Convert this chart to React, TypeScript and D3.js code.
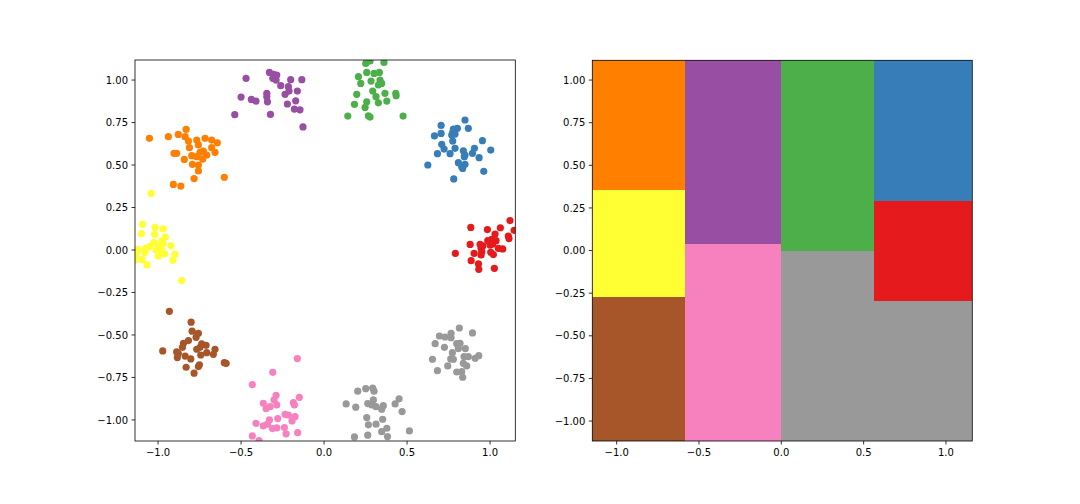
import React from "react";
import * as d3 from "d3";

// ---- data ----
const classColors = ["#e41a1c", "#377eb8", "#4daf4a", "#984ea3", "#ff7f00", "#ffff33", "#a65628", "#f781bf", "#999999", "#999999"];

const redPts: [number, number][] = [
  [1.12, 0.173], [0.884, 0.133], [0.984, 0.12], [1.062, 0.131], [1.145, 0.116], [1.03, 0.094], [1.11, 0.082], [1.114, 0.067],
  [1.01, 0.063], [0.986, 0.055], [1.036, 0.055], [0.88, 0.033], [0.94, 0.033], [0.956, 0.024], [1.0, 0.029], [1.016, 0.035],
  [0.946, 0.01], [1.05, 0.01], [1.076, 0.006], [0.791, -0.02], [0.904, -0.02], [0.95, -0.01], [1.004, -0.014], [1.02, -0.027],
  [0.946, -0.029], [0.886, -0.063], [0.93, -0.082], [0.932, -0.114], [1.026, -0.108],
];
const bluePts: [number, number][] = [
  [0.849, 0.765], [0.705, 0.733], [0.869, 0.716], [0.779, 0.712], [0.803, 0.716], [0.775, 0.692], [0.705, 0.686], [0.665, 0.671],
  [0.769, 0.676], [0.789, 0.682], [0.775, 0.641], [0.954, 0.643], [0.709, 0.622], [0.723, 0.594], [0.789, 0.598], [0.839, 0.584],
  [0.906, 0.598], [1.004, 0.588], [0.894, 0.569], [0.683, 0.567], [0.759, 0.567], [0.849, 0.559], [0.845, 0.549], [0.934, 0.543],
  [0.809, 0.514], [0.849, 0.504], [0.625, 0.5], [0.829, 0.49], [0.835, 0.48], [0.962, 0.463], [0.781, 0.418],
];
const greenPts: [number, number][] = [
  [0.257, 1.108], [0.277, 1.112], [0.251, 1.098], [0.361, 1.104], [0.257, 1.045], [0.301, 1.039], [0.333, 1.045], [0.207, 1.02],
  [0.283, 0.994], [0.337, 1.0], [0.347, 0.98], [0.327, 0.971], [0.221, 0.98], [0.293, 0.935], [0.367, 0.922], [0.432, 0.922],
  [0.434, 0.908], [0.197, 0.916], [0.313, 0.902], [0.257, 0.872], [0.378, 0.876], [0.327, 0.866], [0.183, 0.857], [0.247, 0.839],
  [0.143, 0.788], [0.267, 0.79], [0.277, 0.782], [0.476, 0.788],
];
const purplePts: [number, number][] = [
  [-0.329, 1.045], [-0.305, 1.033], [-0.285, 1.029], [-0.309, 1.01], [-0.289, 1.0], [-0.47, 1.01], [-0.201, 1.002], [-0.134, 1.002],
  [-0.261, 0.967], [-0.215, 0.961], [-0.211, 0.935], [-0.161, 0.935], [-0.345, 0.922], [-0.235, 0.916], [-0.345, 0.902], [-0.5, 0.9],
  [-0.438, 0.886], [-0.41, 0.876], [-0.341, 0.872], [-0.171, 0.878], [-0.221, 0.859], [-0.179, 0.829], [-0.145, 0.825], [-0.538, 0.796],
  [-0.323, 0.798], [-0.127, 0.724],
];
const orangePts: [number, number][] = [
  [-0.831, 0.71], [-1.052, 0.657], [-0.938, 0.667], [-0.878, 0.68], [-0.837, 0.667], [-0.817, 0.641], [-0.767, 0.647], [-0.717, 0.657],
  [-0.677, 0.647], [-0.643, 0.631], [-0.757, 0.618], [-0.811, 0.602], [-0.677, 0.602], [-0.904, 0.569], [-0.888, 0.569], [-0.747, 0.575],
  [-0.727, 0.582], [-0.657, 0.575], [-0.797, 0.555], [-0.707, 0.559], [-0.767, 0.549], [-0.731, 0.535], [-0.842, 0.533], [-0.793, 0.504],
  [-0.757, 0.5], [-0.757, 0.465], [-0.601, 0.428], [-0.783, 0.42], [-0.908, 0.386], [-0.863, 0.376],
];
const yellowPts: [number, number][] = [
  [-1.042, 0.333], [-1.094, 0.151], [-1.018, 0.133], [-0.97, 0.125], [-1.1, 0.096], [-1.02, 0.092], [-0.956, 0.076], [-0.976, 0.055],
  [-1.024, 0.045], [-0.97, 0.039], [-0.922, 0.025], [-1.052, 0.02], [-0.998, 0.024], [-1.119, 0.004], [-1.074, 0.01], [-1.012, 0.0],
  [-0.978, 0.0], [-1.128, -0.01], [-1.08, -0.016], [-0.96, -0.022], [-0.898, -0.025], [-1.133, -0.029], [-0.998, -0.037], [-1.096, -0.057],
  [-0.911, -0.061], [-1.139, -0.059], [-1.066, -0.088], [-0.857, -0.18],
];
const brownPts: [number, number][] = [
  [-0.932, -0.361], [-0.801, -0.425], [-0.795, -0.478], [-0.757, -0.49], [-0.771, -0.514], [-0.817, -0.533], [-0.847, -0.549], [-0.737, -0.553],
  [-0.711, -0.561], [-0.853, -0.573], [-0.747, -0.573], [-0.767, -0.584], [-0.657, -0.584], [-0.972, -0.594], [-0.888, -0.6], [-0.878, -0.608],
  [-0.707, -0.604], [-0.743, -0.618], [-0.667, -0.614], [-0.837, -0.624], [-0.803, -0.641], [-0.884, -0.633], [-0.601, -0.663], [-0.59, -0.667],
  [-0.751, -0.676], [-0.757, -0.686], [-0.831, -0.69], [-0.783, -0.725],
];
const pinkPts: [number, number][] = [
  [-0.161, -0.639], [-0.309, -0.72], [-0.432, -0.792], [-0.289, -0.855], [-0.149, -0.867], [-0.366, -0.902], [-0.301, -0.882], [-0.285, -0.912],
  [-0.325, -0.922], [-0.349, -0.933], [-0.185, -0.898], [-0.179, -0.912], [-0.235, -0.967], [-0.215, -0.971], [-0.175, -0.98], [-0.279, -0.992],
  [-0.329, -1.0], [-0.193, -1.006], [-0.41, -1.02], [-0.341, -1.025], [-0.366, -1.035], [-0.311, -1.051], [-0.285, -1.047], [-0.239, -1.045],
  [-0.159, -1.075], [-0.229, -1.082], [-0.432, -1.094], [-0.392, -1.122],
];
const grayBottomPts: [number, number][] = [
  [0.203, -0.831], [0.251, -0.816], [0.293, -0.812], [0.301, -0.831], [0.452, -0.876], [0.133, -0.906], [0.191, -0.925], [0.263, -0.904],
  [0.297, -0.882], [0.287, -0.912], [0.313, -0.922], [0.357, -0.916], [0.347, -0.937], [0.428, -0.906], [0.47, -0.951], [0.257, -0.986],
  [0.353, -0.996], [0.267, -1.029], [0.313, -1.025], [0.378, -1.049], [0.347, -1.069], [0.514, -1.065], [0.183, -1.1], [0.263, -1.09],
  [0.382, -1.098],
];
const grayRightPts: [number, number][] = [
  [0.815, -0.459], [0.894, -0.488], [0.695, -0.506], [0.729, -0.512], [0.765, -0.49], [0.765, -0.516], [0.669, -0.551], [0.799, -0.551],
  [0.819, -0.549], [0.725, -0.573], [0.809, -0.58], [0.851, -0.58], [0.773, -0.604], [0.653, -0.643], [0.763, -0.641], [0.779, -0.643],
  [0.843, -0.627], [0.869, -0.627], [0.932, -0.622], [0.91, -0.637], [0.745, -0.682], [0.839, -0.667], [0.859, -0.682], [0.683, -0.71],
  [0.799, -0.718], [0.829, -0.716], [0.835, -0.749],
];
const clusters = [redPts, bluePts, greenPts, purplePts, orangePts, yellowPts, brownPts, pinkPts, grayRightPts, grayBottomPts];

// decision regions: [xMin, xMax, yMin, yMax, class]
const INF = Infinity;
const regions: [number, number, number, number, number][] = [
  [-INF, -0.585, 0.355, INF, 4],
  [-INF, -0.585, -0.273, 0.355, 5],
  [-INF, -0.585, -INF, -0.273, 6],
  [-0.585, 0.0, 0.04, INF, 3],
  [-0.585, 0.0, -INF, 0.04, 7],
  [0.0, 0.561, -0.003, INF, 2],
  [0.0, 0.561, -INF, -0.003, 8],
  [0.561, INF, 0.29, INF, 1],
  [0.561, INF, -0.294, 0.29, 0],
  [0.561, INF, -INF, -0.294, 9],
];

const xTicks = [-1.0, -0.5, 0.0, 0.5, 1.0];
const yTicks = [-1.0, -0.75, -0.5, -0.25, 0.0, 0.25, 0.5, 0.75, 1.0];

const fmt = (v: number, d: number) => v.toFixed(d).replace("-", "\u2212");
const FONT = "DejaVu Sans, sans-serif";

function Axes({ x, y, id, children }: { x: d3.ScaleLinear<number, number>; y: d3.ScaleLinear<number, number>; id: string; children: React.ReactNode }) {
  const [x0, x1] = x.range();
  const [y0, y1] = y.range(); // y0 bottom, y1 top
  return (
    <g>
      <defs>
        <clipPath id={id}>
          <rect x={x0} y={y1} width={x1 - x0} height={y0 - y1} />
        </clipPath>
      </defs>
      <g clipPath={`url(#${id})`}>{children}</g>
      <rect x={x0} y={y1} width={x1 - x0} height={y0 - y1} fill="none" stroke="#000" strokeWidth={0.8} />
      {xTicks.map((t) => (
        <g key={"x" + t}>
          <line x1={x(t)} x2={x(t)} y1={y0} y2={y0 + 3.5} stroke="#000" strokeWidth={0.8} />
          <text x={x(t)} y={y0 + 15.3} textAnchor="middle" fontSize={10} fontFamily={FONT} fill="#000">
            {fmt(t, 1)}
          </text>
        </g>
      ))}
      {yTicks.map((t) => (
        <g key={"y" + t}>
          <line x1={x0 - 3.5} x2={x0} y1={y(t)} y2={y(t)} stroke="#000" strokeWidth={0.8} />
          <text x={x0 - 7} y={y(t) + 3.6} textAnchor="end" fontSize={10} fontFamily={FONT} fill="#000">
            {fmt(t, 2)}
          </text>
        </g>
      ))}
    </g>
  );
}

export default function App() {
  const xL = d3.scaleLinear().domain([-1.139, 1.152]).range([135, 515.3]);
  const yL = d3.scaleLinear().domain([-1.124, 1.118]).range([441, 60]);
  const xR = d3.scaleLinear().domain([-1.148, 1.16]).range([592.3, 972.3]);
  const yR = d3.scaleLinear().domain([-1.117, 1.116]).range([441, 60.3]);

  const clampX = (v: number) => Math.max(xR.domain()[0], Math.min(xR.domain()[1], v));
  const clampY = (v: number) => Math.max(yR.domain()[0], Math.min(yR.domain()[1], v));

  return (
    <svg width={1080} height={504} style={{ position: "absolute", left: 0, top: 0, background: "#fff" }}>
      <rect width={1080} height={504} fill="#fff" />
      <Axes x={xL} y={yL} id="clipL">
        {clusters.map((pts, ci) =>
          pts.map((p, i) => <circle key={ci + "-" + i} cx={xL(p[0])} cy={yL(p[1])} r={3.6} fill={classColors[ci]} />)
        )}
      </Axes>
      <Axes x={xR} y={yR} id="clipR">
        {regions.map((r, i) => {
          const xa = xR(clampX(r[0]));
          const xb = xR(clampX(r[1]));
          const ya = yR(clampY(r[3]));
          const yb = yR(clampY(r[2]));
          return <rect key={i} x={xa} y={ya} width={xb - xa} height={yb - ya} fill={classColors[r[4]]} shapeRendering="crispEdges" />;
        })}
      </Axes>
    </svg>
  );
}
